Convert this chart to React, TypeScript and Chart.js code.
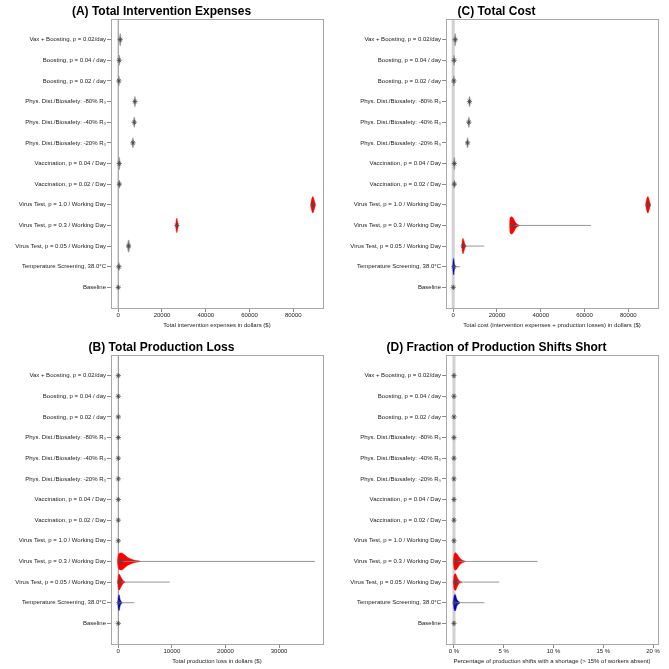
import React, { useEffect, useRef } from 'react';
import { Chart, registerables } from 'chart.js';
Chart.register(...registerables);

// ---------- data ----------
const categories = [
  'Baseline',
  'Temperature Screening, 38.0°C',
  'Virus Test, p = 0.05 / Working Day',
  'Virus Test, p = 0.3 / Working Day',
  'Virus Test, p = 1.0 / Working Day',
  'Vaccination, p = 0.02 / Day',
  'Vaccination, p = 0.04 / Day',
  'Phys. Dist./Biosafety: -20% R₀',
  'Phys. Dist./Biosafety: -40% R₀',
  'Phys. Dist./Biosafety: -80% R₀',
  'Boosting, p = 0.02 / day',
  'Boosting, p = 0.04 / day',
  'Vax + Boosting, p = 0.02/day',
];

const panelTitles = [
  '(A) Total Intervention Expenses',
  '(C) Total Cost',
  '(B) Total Production Loss',
  '(D) Fraction of Production Shifts Short',
];
const axisTitles = [
  'Total intervention expenses in dollars ($)',
  'Total cost (intervention expenses + production losses) in dollars ($)',
  'Total production loss in dollars ($)',
  'Percentage of production shifts with a shortage (> 15% of workers absent)',
];

const dollarTicks = [0, 20000, 40000, 60000, 80000];
const lossTicks = [0, 10000, 20000, 30000];
const pctTicks = [0, 5, 10, 15, 20];

// (A) intervention expenses — medians, narrow-violin x spread, violin half height
const expMedian = [0, 300, 4750, 26800, 89000, 500, 460, 6720, 7330, 7630, 300, 460, 915];
const expSpread = [300, 500, 700, 600, 900, 500, 500, 500, 500, 500, 400, 400, 500];
const expHeight = [0.1, 0.2, 0.3, 0.35, 0.4, 0.2, 0.3, 0.25, 0.25, 0.25, 0.25, 0.25, 0.3];
const expTail = [null, null, null, null, null, null, null, null, null, null, null, null, null];
const expVT1X = [87900, 88500, 89000, 89500, 90200];
const expVT1W = [0, 0.3, 0.4, 0.25, 0];
const expVT03X = [26200, 26500, 26800, 27100, 27500];
const expVT03W = [0, 0.25, 0.35, 0.2, 0];

// (C) total cost
const costMedian = [0, 300, 4500, 27200, 89100, 500, 500, 6550, 7150, 7450, 300, 400, 900];
const costSpread = [300, 500, 700, 700, 900, 500, 500, 500, 500, 500, 400, 400, 500];
const costHeight = [0.1, 0.2, 0.3, 0.35, 0.4, 0.2, 0.3, 0.25, 0.25, 0.25, 0.25, 0.25, 0.3];
const costTail = [null, 3000, 14200, 63000, null, null, null, null, null, null, null, null, null];
const costVT1X = [87900, 88500, 89000, 89500, 90200];
const costVT1W = [0, 0.3, 0.4, 0.25, 0];
const costVT03X = [25700, 26000, 26800, 27600, 28600, 30200];
const costVT03W = [0, 0.36, 0.42, 0.32, 0.12, 0.01];
const costVT005X = [3900, 4200, 4500, 4900, 5400, 5900];
const costVT005W = [0, 0.3, 0.37, 0.25, 0.08, 0.01];
const costTempX = [-300, 0, 200, 500, 900];
const costTempW = [0, 0.3, 0.4, 0.15, 0.01];

// (B) production loss
const lossMedian = [0, 100, 200, 450, 0, 0, 0, 0, 0, 0, 0, 0, 0];
const lossSpread = [60, 60, 60, 60, 60, 60, 60, 60, 60, 60, 60, 60, 60];
const lossHeight = [0.1, 0.1, 0.1, 0.1, 0.1, 0.1, 0.1, 0.1, 0.1, 0.1, 0.1, 0.1, 0.1];
const lossTail = [null, 3000, 9600, 36700, null, null, null, null, null, null, null, null, null];
const lossVT03X = [-180, 0, 250, 600, 1100, 1700, 2500, 3300, 4100];
const lossVT03W = [0, 0.3, 0.4, 0.41, 0.33, 0.2, 0.1, 0.04, 0.01];
const lossVT005X = [-120, 0, 200, 450, 800, 1250];
const lossVT005W = [0, 0.3, 0.38, 0.26, 0.1, 0.01];
const lossTempX = [-100, 0, 150, 350, 700];
const lossTempW = [0, 0.25, 0.38, 0.15, 0.01];

// (D) fraction of production shifts short (%)
const shortMedian = [0, 0.1, 0.15, 0.2, 0, 0, 0, 0, 0, 0, 0, 0, 0];
const shortSpread = [0.03, 0.03, 0.03, 0.03, 0.03, 0.03, 0.03, 0.03, 0.03, 0.03, 0.03, 0.03, 0.03];
const shortHeight = [0.1, 0.1, 0.1, 0.1, 0.1, 0.1, 0.1, 0.1, 0.1, 0.1, 0.1, 0.1, 0.1];
const shortTail = [null, 3.05, 4.55, 8.4, null, null, null, null, null, null, null, null, null];
const shortVT03X = [-0.07, 0, 0.15, 0.35, 0.6, 0.9, 1.15];
const shortVT03W = [0, 0.3, 0.42, 0.33, 0.15, 0.05, 0.01];
const shortVT005X = [-0.07, 0, 0.15, 0.3, 0.5, 0.77];
const shortVT005W = [0, 0.3, 0.4, 0.25, 0.08, 0.01];
const shortTempX = [-0.07, 0, 0.12, 0.3, 0.6];
const shortTempW = [0, 0.28, 0.4, 0.15, 0.01];

const RED = '#ff0000';
const BLUE = '#0000c8';
const GREY = '#8a8a8a';

type Violin = { cat: number; xs: number[]; ws: number[]; color: string };

type Panel = {
  title: string;
  axisTitle: string;
  min: number;
  max: number;
  ticks: number[];
  fmt: (v: number) => string;
  median: number[];
  spread: number[];
  height: number[];
  tail: (number | null)[];
  violins: Violin[];
  zeroColor: string;
  zeroWidth: number;
};

const panels: Panel[] = [
  {
    title: panelTitles[0], axisTitle: axisTitles[0], min: -3300, max: 93600,
    ticks: dollarTicks, fmt: (v) => String(v),
    median: expMedian, spread: expSpread, height: expHeight, tail: expTail,
    violins: [
      { cat: 4, xs: expVT1X, ws: expVT1W, color: RED },
      { cat: 3, xs: expVT03X, ws: expVT03W, color: RED },
    ],
    zeroColor: '#8a8a8a', zeroWidth: 1,
  },
  {
    title: panelTitles[1], axisTitle: axisTitles[1], min: -3300, max: 93600,
    ticks: dollarTicks, fmt: (v) => String(v),
    median: costMedian, spread: costSpread, height: costHeight, tail: costTail,
    violins: [
      { cat: 4, xs: costVT1X, ws: costVT1W, color: RED },
      { cat: 3, xs: costVT03X, ws: costVT03W, color: RED },
      { cat: 2, xs: costVT005X, ws: costVT005W, color: RED },
      { cat: 1, xs: costTempX, ws: costTempW, color: BLUE },
    ],
    zeroColor: '#d0d0d0', zeroWidth: 3,
  },
  {
    title: panelTitles[2], axisTitle: axisTitles[2], min: -1360, max: 38200,
    ticks: lossTicks, fmt: (v) => String(v),
    median: lossMedian, spread: lossSpread, height: lossHeight, tail: lossTail,
    violins: [
      { cat: 3, xs: lossVT03X, ws: lossVT03W, color: RED },
      { cat: 2, xs: lossVT005X, ws: lossVT005W, color: RED },
      { cat: 1, xs: lossTempX, ws: lossTempW, color: BLUE },
    ],
    zeroColor: '#8a8a8a', zeroWidth: 1,
  },
  {
    title: panelTitles[3], axisTitle: axisTitles[3], min: -0.8, max: 20.5,
    ticks: pctTicks, fmt: (v) => `${v} %`,
    median: shortMedian, spread: shortSpread, height: shortHeight, tail: shortTail,
    violins: [
      { cat: 3, xs: shortVT03X, ws: shortVT03W, color: RED },
      { cat: 2, xs: shortVT005X, ws: shortVT005W, color: RED },
      { cat: 1, xs: shortTempX, ws: shortTempW, color: BLUE },
    ],
    zeroColor: '#d0d0d0', zeroWidth: 3,
  },
];

// ---------- chart building ----------
const FONT = "'Liberation Sans', Arial, Helvetica, sans-serif";

const framePlugin = {
  id: 'frame',
  afterDatasetsDraw(chart: any) {
    const { ctx, chartArea: a } = chart;
    ctx.save();
    ctx.strokeStyle = '#a8a8a8';
    ctx.lineWidth = 1;
    ctx.strokeRect(Math.round(a.left) + 0.5, Math.round(a.top) + 0.5,
      Math.round(a.right - a.left), Math.round(a.bottom - a.top));
    ctx.restore();
  },
};

function violinSets(v: Violin) {
  const c = v.cat + 1;
  const common = {
    showLine: true, pointRadius: 0, borderWidth: 0.5,
    borderColor: v.color, backgroundColor: v.color,
    tension: 0.4, cubicInterpolationMode: 'monotone', fill: { value: c },
  };
  return [
    { ...common, data: v.xs.map((x, i) => ({ x, y: c + v.ws[i] })) },
    { ...common, data: v.xs.map((x, i) => ({ x, y: c - v.ws[i] })) },
  ];
}

function buildConfig(p: Panel, padRight: number, padBottom: number) {
  const datasets: any[] = [];
  // median markers (drawn on top)
  datasets.push({
    data: p.median.map((m, i) => ({ x: m, y: i + 1 })),
    pointStyle: 'star', pointRadius: 2.6, borderColor: '#4a4a4a', borderWidth: 0.8,
    backgroundColor: 'transparent', showLine: false,
  });
  // tails
  p.tail.forEach((t, i) => {
    if (t === null) return;
    datasets.push({
      data: [{ x: p.median[i], y: i + 1 }, { x: t, y: i + 1 }],
      showLine: true, pointRadius: 0, borderColor: '#7a7a7a', borderWidth: 0.8,
    });
  });
  // violins
  categories.forEach((_, i) => {
    const coloured = p.violins.find((v) => v.cat === i);
    if (coloured) {
      datasets.push(...violinSets(coloured));
    } else {
      const m = p.median[i];
      const s = p.spread[i];
      datasets.push(...violinSets({ cat: i, xs: [m - s, m, m + s], ws: [0, p.height[i], 0], color: GREY }));
    }
  });
  // zero line (bottom)
  datasets.push({
    data: [{ x: 0, y: 0 }, { x: 0, y: categories.length + 1 }],
    showLine: true, pointRadius: 0, borderColor: p.zeroColor, borderWidth: p.zeroWidth,
  });

  return {
    type: 'scatter',
    data: { datasets },
    plugins: [framePlugin],
    options: {
      animation: false,
      responsive: false,
      events: [],
      layout: { padding: { left: 0, right: padRight, top: 0, bottom: padBottom } },
      plugins: {
        legend: { display: false },
        tooltip: { enabled: false },
        title: {
          display: true, text: p.title, color: '#000',
          font: { family: FONT, size: 12, weight: 'bold', lineHeight: 1.2 },
          padding: { top: 4.6, bottom: 0 },
        },
      },
      scales: {
        x: {
          type: 'linear', min: p.min, max: p.max,
          afterBuildTicks: (axis: any) => { axis.ticks = p.ticks.map((v) => ({ value: v })); },
          afterFit: (s: any) => { s.height = 21.6; },
          border: { display: false },
          grid: { drawOnChartArea: false, drawTicks: true, tickLength: 4, color: '#8a8a8a', tickColor: '#8a8a8a' },
          ticks: {
            callback: (v: any) => p.fmt(Number(v)), maxRotation: 0, autoSkip: false, padding: 0,
            color: '#222', font: { family: FONT, size: 6 },
          },
          title: {
            display: true, text: p.axisTitle, color: '#222',
            font: { family: FONT, size: 6, lineHeight: 1.2 }, padding: { top: 0, bottom: 1 },
          },
        },
        y: {
          type: 'linear', min: 0, max: categories.length + 1,
          afterBuildTicks: (axis: any) => { axis.ticks = categories.map((_, i) => ({ value: i + 1 })); },
          afterFit: (s: any) => { s.width = 111; },
          border: { display: false },
          grid: { drawOnChartArea: false, drawTicks: true, tickLength: 4, color: '#8a8a8a', tickColor: '#8a8a8a' },
          ticks: {
            callback: (v: any) => categories[Number(v) - 1] ?? '', autoSkip: false, padding: 1,
            color: '#222', font: { family: FONT, size: 6 },
          },
        },
      },
    },
  };
}

const layoutBoxes = [
  { left: 0, top: 0, w: 335, h: 335 },
  { left: 335, top: 0, w: 334, h: 335 },
  { left: 0, top: 336, w: 335, h: 333 },
  { left: 335, top: 336, w: 334, h: 333 },
];

function PanelChart({ idx }: { idx: number }) {
  const ref = useRef<HTMLCanvasElement>(null);
  const box = layoutBoxes[idx];
  useEffect(() => {
    if (!ref.current) return;
    const cfg: any = buildConfig(panels[idx], box.w - 323, box.h - 329.6);
    const chart = new Chart(ref.current, cfg);
    return () => chart.destroy();
  }, [idx]);
  return (
    <canvas
      ref={ref}
      width={box.w}
      height={box.h}
      style={{ position: 'absolute', left: box.left, top: box.top, width: box.w, height: box.h }}
    />
  );
}

export default function App() {
  return (
    <div style={{ position: 'absolute', left: 0, top: 0, width: 669, height: 669, overflow: 'hidden', background: '#fff' }}>
      {[0, 1, 2, 3].map((i) => (
        <PanelChart key={i} idx={i} />
      ))}
    </div>
  );
}
